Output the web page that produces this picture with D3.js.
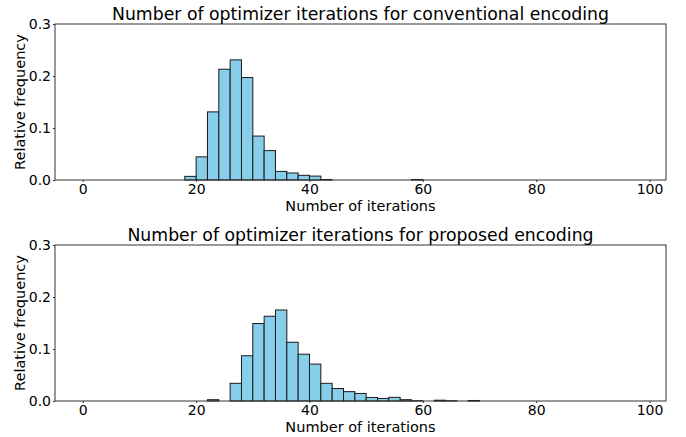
<!DOCTYPE html>
<html>
<head>
<meta charset="utf-8">
<script src="https://cdn.jsdelivr.net/npm/d3@7"></script>
<style>
  body { margin: 0; background: #fff; }
  svg { font-family: "DejaVu Sans", sans-serif; }
</style>
</head>
<body>
<svg id="chart" width="686" height="437"></svg>
<script>
// left edges of the 2-wide bins, 0..96
const binStarts = [0,2,4,6,8,10,12,14,16,18,20,22,24,26,28,30,32,34,36,38,40,42,44,46,48,
                   50,52,54,56,58,60,62,64,66,68,70,72,74,76,78,80,82,84,86,88,90,92,94,96];
const binWidth = 2;

// relative frequency per bin
const conventionalFreq = [0,0,0,0,0,0,0,0,0,0.007,0.0445,0.131,0.213,0.231,0.197,0.0845,0.0565,0.0165,0.0135,0.009,
                          0.0075,0.001,0,0,0,0,0,0,0,0.001,0,0,0,0,0,0,0,0,0,0,0,0,0,0,0,0,0,0,0];
const proposedFreq = [0,0,0,0,0,0,0,0,0,0,0,0.0025,0,0.034,0.087,0.149,0.163,0.175,0.113,0.090,
                      0.071,0.034,0.024,0.018,0.0145,0.0068,0.005,0.007,0.0025,0.0005,0,0.0015,0.0005,0,0.001,0,0,0,0,0,
                      0,0,0,0,0,0,0,0,0];

const xTicks = [0, 20, 40, 60, 80, 100];
const yTicks = [0, 0.1, 0.2, 0.3];

const panels = [
  {title: 'Number of optimizer iterations for conventional encoding', values: conventionalFreq, top: 24},
  {title: 'Number of optimizer iterations for proposed encoding', values: proposedFreq, top: 245}
];

const svg = d3.select('#chart');
const left = 55, right = 666, plotH = 156;

const x = d3.scaleLinear().domain([-4.9, 102.9]).range([left, right]);

panels.forEach(p => {
  const y = d3.scaleLinear().domain([0, 0.3]).range([p.top + plotH, p.top]);
  const g = svg.append('g');

  const data = binStarts.map((b, i) => ({x0: b, x1: b + binWidth, v: p.values[i]}));

  g.selectAll('rect.bar')
    .data(data)
    .join('rect')
    .attr('class', 'bar')
    .attr('x', d => x(d.x0))
    .attr('width', d => x(d.x1) - x(d.x0))
    .attr('y', d => y(d.v))
    .attr('height', d => y(0) - y(d.v))
    .attr('fill', '#87ceeb')
    .attr('stroke', '#1a1a1a')
    .attr('stroke-width', 1);

  // frame
  g.append('rect')
    .attr('x', left).attr('y', p.top)
    .attr('width', right - left).attr('height', plotH)
    .attr('fill', 'none').attr('stroke', '#333').attr('stroke-width', 1);

  const xAxis = g.append('g')
    .attr('transform', `translate(0,${p.top + plotH})`)
    .call(d3.axisBottom(x).tickValues(xTicks).tickSize(2).tickPadding(2).tickFormat(d3.format('d')));
  const yAxis = g.append('g')
    .attr('transform', `translate(${left},0)`)
    .call(d3.axisLeft(y).tickValues(yTicks).tickSize(2).tickPadding(2).tickFormat(d3.format('.1f')));
  [xAxis, yAxis].forEach(a => {
    a.select('.domain').remove();
    a.selectAll('text').attr('font-size', 14).attr('fill', '#000').attr('font-family', 'DejaVu Sans');
    a.selectAll('line').attr('stroke', '#333');
  });

  g.append('text')
    .attr('x', (left + right) / 2).attr('y', p.top - 4)
    .attr('text-anchor', 'middle').attr('font-size', 17.3)
    .text(p.title);

  g.append('text')
    .attr('x', (left + right) / 2).attr('y', p.top + plotH + 31)
    .attr('text-anchor', 'middle').attr('font-size', 14.5)
    .text('Number of iterations');

  g.append('text')
    .attr('transform', `translate(25,${p.top + plotH / 2}) rotate(-90)`)
    .attr('text-anchor', 'middle').attr('font-size', 14.5)
    .text('Relative frequency');
});
</script>
</body>
</html>
